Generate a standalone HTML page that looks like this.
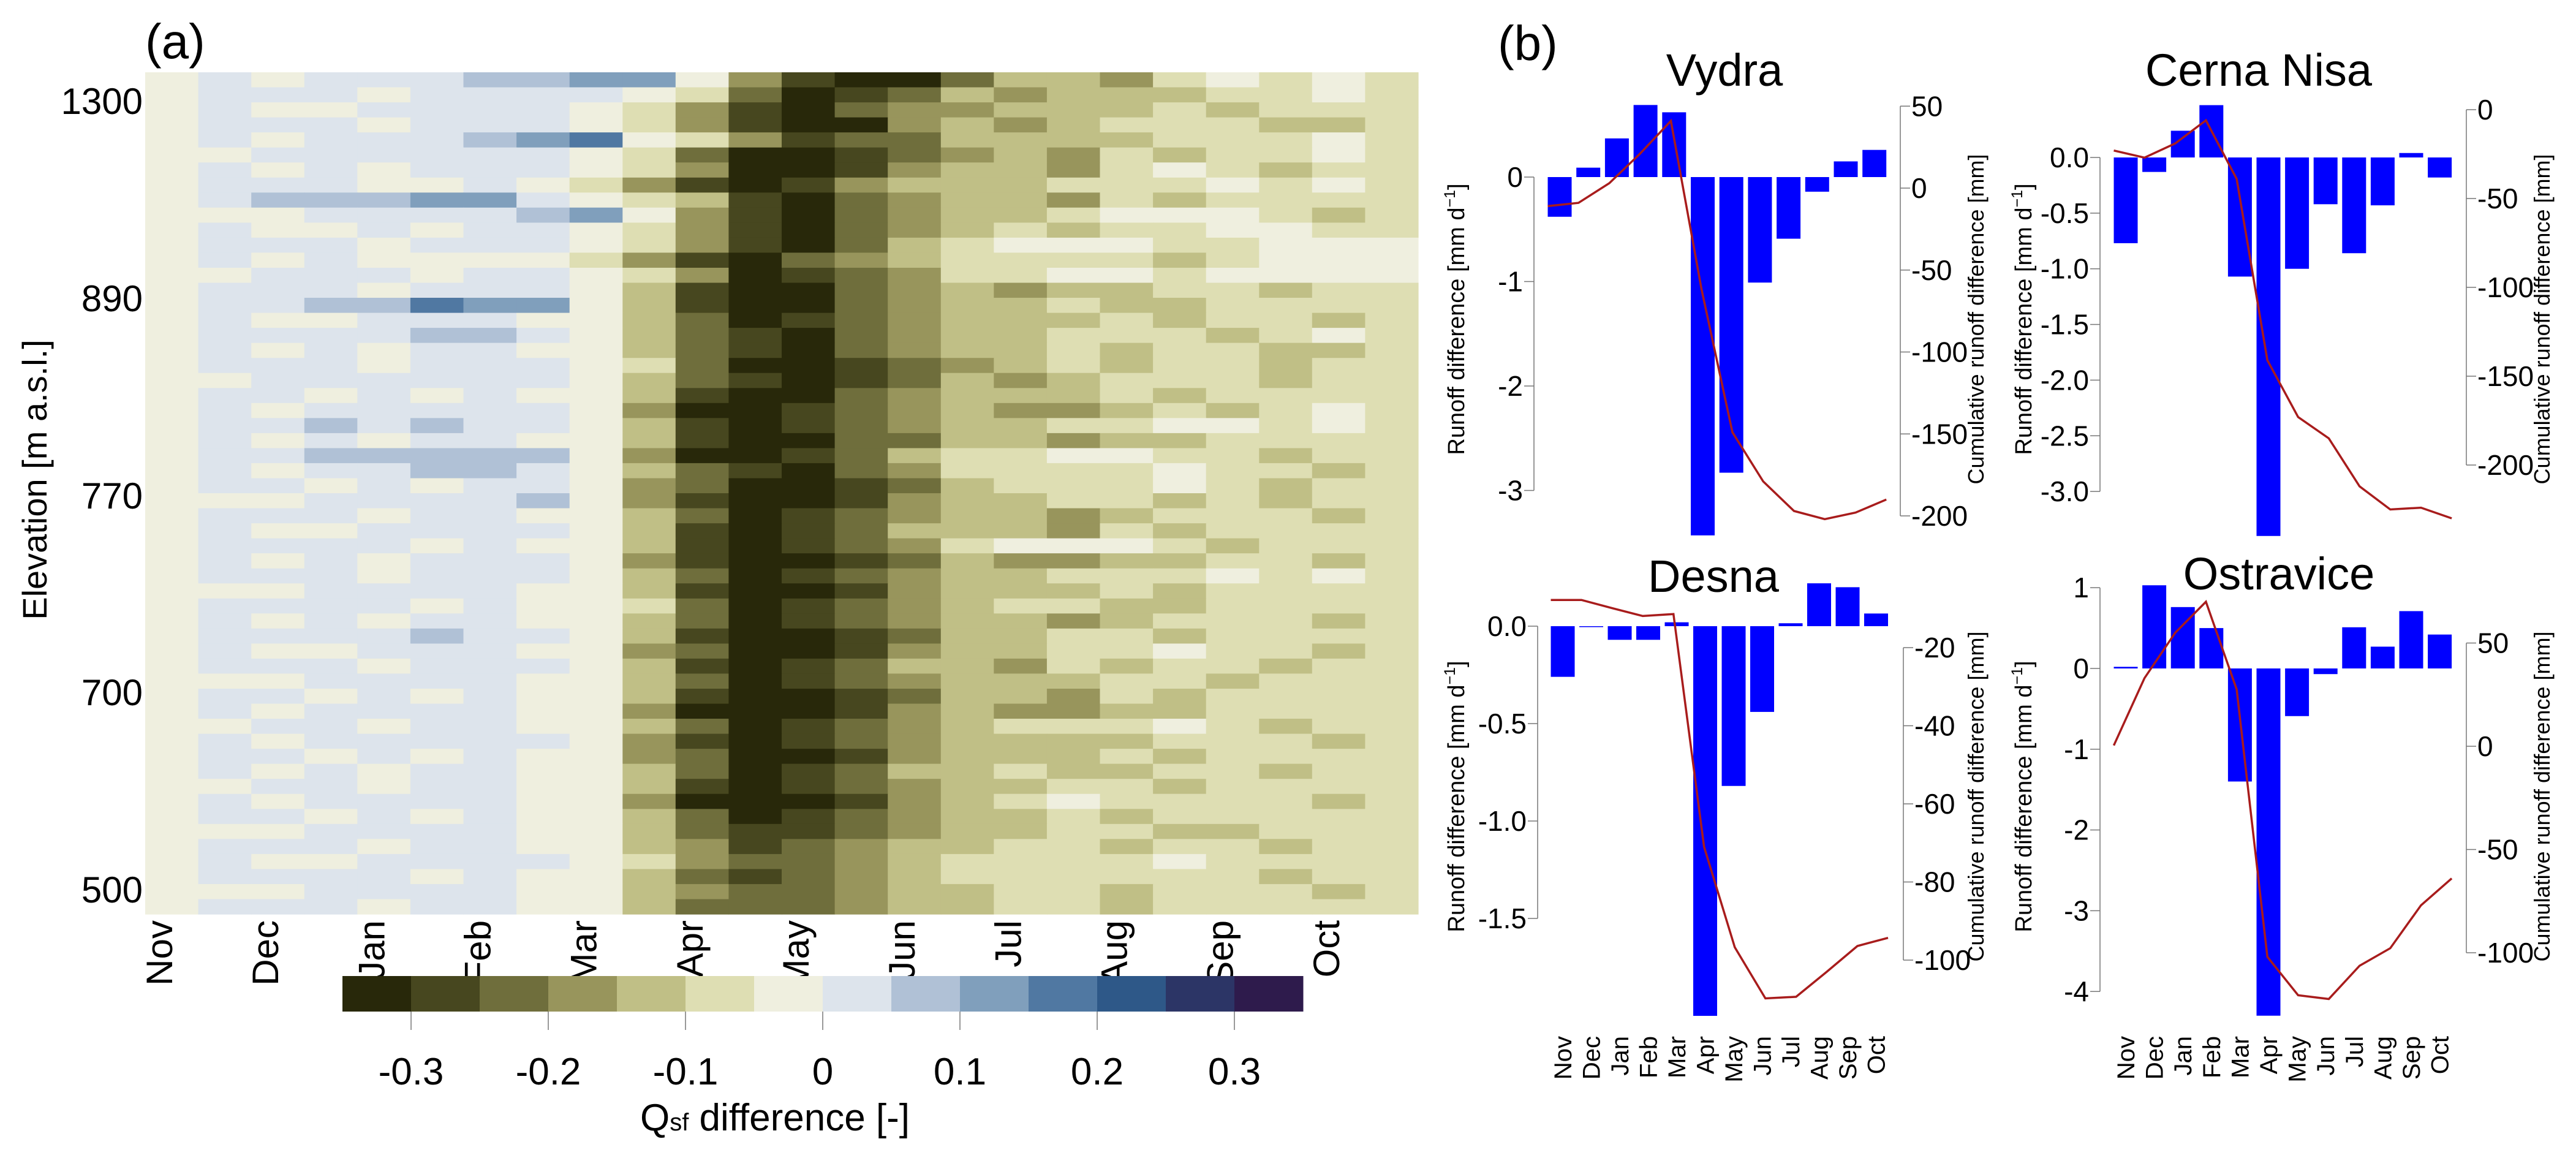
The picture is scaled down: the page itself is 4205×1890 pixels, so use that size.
<!DOCTYPE html>
<html><head><meta charset="utf-8"><style>
html,body{margin:0;padding:0;background:#fff;}
svg{display:block;}
.n{font-family:"Liberation Sans Narrow","Liberation Sans",sans-serif;}
.w{font-family:"Liberation Sans",sans-serif;}
</style></head><body>
<svg id="fig" width="4205" height="1890" viewBox="0 0 4205 1890" xmlns="http://www.w3.org/2000/svg">
<g id="hm"></g>
<g id="pa">
<text class="n" x="237" y="95" font-size="80">(a)</text>
<text class="w" transform="translate(76,783) rotate(-90)" text-anchor="middle" font-size="56">Elevation [m a.s.l.]</text>
<text class="n" x="1265" y="1845" text-anchor="middle" font-size="62">Q<tspan font-size="40">sf</tspan> difference [-]</text>
</g>
<g id="cb"></g>
<g id="pb">
<text class="n" x="2445" y="98" font-size="80">(b)</text>
</g>
</svg>
<script>
// ---------- Heatmap data (classes 0..13, bins of 0.05 from -0.35 to 0.35), 24 half-month bins Nov..Oct ----------
const hmMonths = ["Nov","Dec","Jan","Feb","Mar","Apr","May","Jun","Jul","Aug","Sep","Oct"];
const hmElevLabels = ["1300","890","770","700","500"];
const hmRows = [
"676777889963100244356565","677767777652012434445565","676677776531023344454555","677767776531003434555445",
"67677789a653122444455565","667777776520012343545565","676767776530013443565455","677766765310134445556565",
"678889976541023443545555","666777789631023445666545","676676776531023454556655","677767776531024566655666",
"676766665310234555545666","667776776530123556656666","677767776410023434455455","67788a996410023445445555",
"676677766420123444545545","677778876421023445554565","676767766421023445455445","677767776520012345455455",
"667777776421012434555455","677676766410023444545555","676777776300123433454565","677878776410123445566565",
"676767766410022443445555","677888886300124556655455","676778876421023555565545","677676776320012455565455",
"666777786310013445545455","677767766420123443455545","676677776410124443545555","677776766410123566654555",
"676767776310012433445545","677767776420123445556565","666777766410013444545555","677776766520123455445555",
"676767766420123443455545","677778776410012445545555","676677766320013445565545","677767776410124435455455",
"666777766420123444554555","677676766410012443545555","676777766300013433445555","667767766420123455565455",
"676777776310123444455545","677676766320013444545555","676767766420124454455455","667767766410123445545555",
"676777766300013456555545","677676766420123445455555","666777766421123445544555","677767766431234455455455",
"676677776532234555565555","677776766421234555555455","666777766432234455455545","677767766422234455455555"];
const cbTickValues = [-0.3,-0.2,-0.1,0,0.1,0.2,0.3];
const cbTickLabels = ["-0.3","-0.2","-0.1","0","0.1","0.2","0.3"];
const palette = ["#28280a","#47471f","#6f6e3c","#98955c","#c0bf86","#dedeb3","#efefdf","#dde4ec","#b0c1d6","#809fbc","#5078a2","#2e5888","#2c3566","#2e1b4c"];

// ---------- Panel b data ----------
const monthsB = ["Nov","Dec","Jan","Feb","Mar","Apr","May","Jun","Jul","Aug","Sep","Oct"];
const vydraBars = [-0.38,0.09,0.37,0.69,0.62,-3.43,-2.83,-1.01,-0.59,-0.14,0.15,0.26];
const vydraCum = [-11,-9,3,21,41,-62,-149,-179,-197,-202,-198,-190];
const cernaBars = [-0.77,-0.13,0.24,0.47,-1.07,-3.4,-1.0,-0.42,-0.86,-0.43,0.04,-0.18];
const cernaCum = [-23,-27,-19,-6,-39,-141,-173,-185,-212,-225,-224,-230];
const desnaBars = [-0.26,-0.004,-0.07,-0.07,0.02,-2.0,-0.82,-0.44,0.015,0.22,0.2,0.065];
const desnaCum = [-7.8,-7.8,-9.9,-11.9,-11.4,-71,-96.7,-109.8,-109.4,-103,-96.4,-94.3];
const ostraBars = [0.02,1.03,0.76,0.5,-1.4,-4.3,-0.59,-0.07,0.51,0.27,0.71,0.42];
const ostraCum = [0.4,33,55,70,27.5,-102,-120.6,-122.4,-106.3,-97.8,-77,-64];
const vydraLeftTicks = [0,-1,-2,-3];
const vydraRightTicks = [50,0,-50,-100,-150,-200];
const cernaLeftTicks = [0,-0.5,-1,-1.5,-2,-2.5,-3];
const cernaRightTicks = [0,-50,-100,-150,-200];
const desnaLeftTicks = [0,-0.5,-1,-1.5];
const desnaRightTicks = [-20,-40,-60,-80,-100];
const ostraLeftTicks = [1,0,-1,-2,-3,-4];
const ostraRightTicks = [50,0,-50,-100];

const NS="http://www.w3.org/2000/svg";
function mk(tag, parent, attrs){const e=document.createElementNS(NS,tag);for(const k in attrs)e.setAttribute(k,attrs[k]);parent.appendChild(e);return e;}

// ---------- Heatmap ----------
const hm=document.getElementById('hm');
const HX0=237,HX1=2315,HY0=118,HY1=1492;
const nCols=24, nRows=hmRows.length;
const cw=(HX1-HX0)/nCols, rh=(HY1-HY0)/nRows;
const xCol=c=>HX0+c*cw, yRow=r=>HY0+r*rh;
hmRows.forEach((row,r)=>{
  for(let c=0;c<nCols;c++){
    const k=parseInt(row[c]||'6',16);
    const rc=mk('rect',hm,{x:xCol(c).toFixed(1),y:yRow(r).toFixed(1),width:(cw+0.6).toFixed(1),height:(rh+0.6).toFixed(1),fill:palette[k]});
    
    
  }
});
const pa=document.getElementById('pa');
const monthW=(HX1-HX0)/12;
hmMonths.forEach((m,i)=>{
  const x=HX0+i*monthW+23+21;
  const t=mk('text',pa,{class:'n','font-size':60,'text-anchor':'end',transform:`translate(${x},1502) rotate(-90)`});
  t.textContent=m;
  
  
});
const elevY=[165,487,809,1130,1452];
hmElevLabels.forEach((l,i)=>{
  const t=mk('text',pa,{class:'n','font-size':60,'text-anchor':'end',x:233,y:elevY[i]+21});
  t.textContent=l;
  
  
});

// ---------- Colorbar ----------
const cb=document.getElementById('cb');
const CX0=559,CX1=2127,CY0=1593,CY1=1651;
const bw=(CX1-CX0)/palette.length;
const xCb=v=>CX0+(v+0.35)/0.05*bw;
palette.forEach((col,i)=>{
  const r=mk('rect',cb,{x:(CX0+i*bw).toFixed(1),y:CY0,width:(bw+0.5).toFixed(1),height:CY1-CY0,fill:col});
  
  
});
cbTickValues.forEach((v,i)=>{
  const x=xCb(v);
  const l=mk('line',cb,{x1:x,x2:x,y1:CY1,y2:1681,stroke:'#777','stroke-width':1.5});
  
  
  const t=mk('text',cb,{class:'n','font-size':62,'text-anchor':'middle',x:x,y:1770});
  t.textContent=cbTickLabels[i];
  
  
});

// ---------- Panel b ----------
const pb=document.getElementById('pb');
function fmt(v,dec){return dec?v.toFixed(1):String(v);}
function drawPanel(p){
  const g=mk('g',pb,{});
  
  
  const yL=v=>p.l0-v*p.lScale, yR=v=>p.r0-(v-p.rRef)*p.rScale;
  const xBar=i=>p.bx0+i*p.bStep;
  const t=mk('text',g,{class:'n','font-size':74,'text-anchor':'middle',x:p.tx,y:p.ty});
  t.textContent=p.title;
  
  
  p.bars.forEach((v,i)=>{
    const y1=yL(Math.max(v,0)), y2=yL(Math.min(v,0));
    const r=mk('rect',g,{x:xBar(i)-19.5,y:y1,width:39,height:Math.max(y2-y1,1.5),fill:'#0000ff'});
    
    
  });
  const lx0=xBar(0)-19.5, lStep=(xBar(11)+19.5-lx0)/11;
  const pts=p.cum.map((v,i)=>(lx0+i*lStep).toFixed(1)+','+yR(v).toFixed(1)).join(' ');
  const pl=mk('polyline',g,{points:pts,fill:'none',stroke:'#a81c1c','stroke-width':3.5});
  
  
  const la=p.lTicks;
  const ax=mk('line',g,{x1:p.lx,x2:p.lx,y1:yL(la[0]),y2:yL(la[la.length-1]),stroke:'#777','stroke-width':1.5});
  
  
  la.forEach(v=>{
    const tk=mk('line',g,{x1:p.lx-16,x2:p.lx,y1:yL(v),y2:yL(v),stroke:'#777','stroke-width':1.5});
    
    
    const tl=mk('text',g,{class:'n','font-size':46,'text-anchor':'end',x:p.lx-18,y:yL(v)+16});
    tl.textContent=fmt(v,p.lDec);
    
    
  });
  const ra=p.rTicks;
  const ax2=mk('line',g,{x1:p.rx,x2:p.rx,y1:yR(ra[0]),y2:yR(ra[ra.length-1]),stroke:'#777','stroke-width':1.5});
  
  
  ra.forEach(v=>{
    const tk=mk('line',g,{x1:p.rx,x2:p.rx+16,y1:yR(v),y2:yR(v),stroke:'#777','stroke-width':1.5});
    
    
    const tl=mk('text',g,{class:'n','font-size':46,x:p.rx+18,y:yR(v)+16});
    tl.textContent=String(v);
    
    
  });
  const lt=mk('text',g,{class:'w','font-size':38,'text-anchor':'middle',transform:`translate(${p.llx},${p.lly}) rotate(-90)`});
  lt.innerHTML='Runoff difference [mm d<tspan font-size="25" dy="-15">−1</tspan><tspan dy="15">]</tspan>';
  
  
  const rt=mk('text',g,{class:'w','font-size':36,'text-anchor':'middle',transform:`translate(${p.rlx},${p.lly}) rotate(-90)`});
  rt.textContent='Cumulative runoff difference [mm]';
  
  
  if(p.months){
    monthsB.forEach((m,i)=>{
      const ml=mk('text',g,{class:'w','font-size':40,'text-anchor':'end',transform:`translate(${xBar(i)+14},1691) rotate(-90)`});
      ml.textContent=m;
      
      
    });
  }
}
drawPanel({name:'vydra',title:'Vydra',tx:2815,ty:140,bars:vydraBars,cum:vydraCum,l0:289,lScale:170.5,lTicks:vydraLeftTicks,lDec:false,lx:2504,
  r0:307,rRef:0,rScale:2.675,rTicks:vydraRightTicks,rx:3102,bx0:2546,bStep:46.7,llx:2390,rlx:3238,lly:521,months:false});
drawPanel({name:'cerna-nisa',title:'Cerna Nisa',tx:3687,ty:140,bars:cernaBars,cum:cernaCum,l0:257,lScale:181.7,lTicks:cernaLeftTicks,lDec:true,lx:3428,
  r0:179,rRef:0,rScale:2.9,rTicks:cernaRightTicks,rx:4026,bx0:3470,bStep:46.6,llx:3316,rlx:4162,lly:521,months:false});
drawPanel({name:'desna',title:'Desna',tx:2797,ty:966,bars:desnaBars,cum:desnaCum,l0:1022,lScale:318,lTicks:desnaLeftTicks,lDec:true,lx:2510,
  r0:1057,rRef:-20,rScale:6.375,rTicks:desnaRightTicks,rx:3107,bx0:2551,bStep:46.5,llx:2390,rlx:3238,lly:1300,months:true});
drawPanel({name:'ostravice',title:'Ostravice',tx:3720,ty:962,bars:ostraBars,cum:ostraCum,l0:1091,lScale:131.8,lTicks:ostraLeftTicks,lDec:false,lx:3428,
  r0:1218,rRef:0,rScale:3.37,rTicks:ostraRightTicks,rx:4026,bx0:3470,bStep:46.6,llx:3316,rlx:4162,lly:1300,months:true});
</script>
</body></html>
